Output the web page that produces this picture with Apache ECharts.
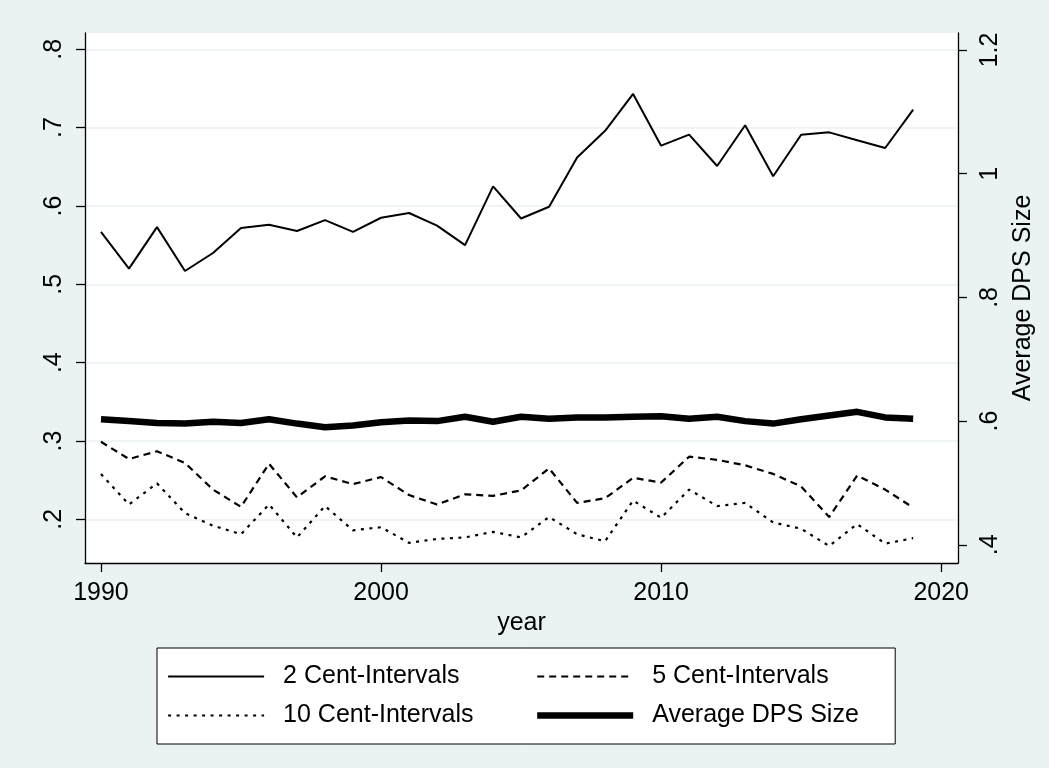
<!DOCTYPE html>
<html>
<head>
<meta charset="utf-8">
<script src="https://cdn.jsdelivr.net/npm/echarts@6/dist/echarts.min.js"></script>
<style>
html,body{margin:0;padding:0;background:#eaf2f3;}
#chart{width:1049px;height:768px;}
</style>
</head>
<body>
<div id="chart"></div>
<script>
var years = [1990,1991,1992,1993,1994,1995,1996,1997,1998,1999,2000,2001,2002,2003,2004,2005,2006,2007,2008,2009,2010,2011,2012,2013,2014,2015,2016,2017,2018,2019];
var cent2 = [0.567,0.520,0.573,0.517,0.540,0.572,0.576,0.568,0.582,0.567,0.585,0.591,0.575,0.550,0.625,0.584,0.599,0.662,0.696,0.743,0.677,0.691,0.651,0.703,0.638,0.691,0.694,0.684,0.674,0.723];
var cent5 = [0.299,0.277,0.287,0.272,0.238,0.216,0.271,0.228,0.255,0.245,0.254,0.231,0.219,0.232,0.230,0.237,0.265,0.221,0.227,0.253,0.247,0.280,0.276,0.269,0.258,0.242,0.203,0.256,0.238,0.215];
var cent10 = [0.258,0.219,0.246,0.208,0.192,0.181,0.219,0.177,0.217,0.186,0.190,0.170,0.175,0.177,0.184,0.177,0.203,0.181,0.172,0.224,0.202,0.238,0.217,0.221,0.196,0.188,0.166,0.194,0.169,0.176];
var avgDPS = [0.603,0.600,0.597,0.596,0.599,0.597,0.603,0.596,0.590,0.593,0.598,0.601,0.600,0.607,0.599,0.607,0.604,0.606,0.606,0.607,0.608,0.604,0.607,0.600,0.596,0.603,0.609,0.615,0.606,0.604];

var xTicks = [1990,2000,2010,2020];
var leftTicks = [0.2,0.3,0.4,0.5,0.6,0.7,0.8];
var leftTickLabels = ['.2','.3','.4','.5','.6','.7','.8'];
var rightTicks = [0.4,0.6,0.8,1.0,1.2];
var rightTickLabels = ['.4','.6','.8','1','1.2'];
var seriesNames = ['2 Cent-Intervals','5 Cent-Intervals','10 Cent-Intervals','Average DPS Size'];

function pairs(vals){ return years.map(function(y,i){ return [y, vals[i]]; }); }
function labelFor(ticks, labels){
  return function(v){
    for (var i=0;i<ticks.length;i++){ if (Math.abs(ticks[i]-v) < 1e-6) return labels[i]; }
    return '';
  };
}

var FONT = '"Liberation Sans", Arial, sans-serif';
var chart = echarts.init(document.getElementById('chart'), null, {renderer:'canvas'});
var axisLineStyle = {color:'#000', width:1.3};

var styles = {};
styles[seriesNames[0]] = {color:'#000', width:2};
styles[seriesNames[1]] = {color:'#000', width:2.2, type:[7,5]};
styles[seriesNames[2]] = {color:'#000', width:2.2, type:[3,5.5]};
styles[seriesNames[3]] = {color:'#000', width:6.5};

function legendItem(name){
  return {name:name, itemStyle:{opacity:0}, lineStyle:styles[name]};
}

chart.setOption({
  backgroundColor:'#eaf2f3',
  animation:false,
  textStyle:{fontFamily:FONT, color:'#000'},
  grid:{left:85, right:91, top:33, bottom:205, show:true, backgroundColor:'#ffffff', borderWidth:0},
  xAxis:{
    type:'value', min:1989.43, max:2020.6,
    name:'year', nameLocation:'middle', nameGap:42,
    nameTextStyle:{fontSize:25, color:'#000', fontFamily:FONT},
    axisLine:{show:true, onZero:false, lineStyle:axisLineStyle},
    axisTick:{show:true, length:9, customValues:xTicks, lineStyle:axisLineStyle},
    axisLabel:{customValues:xTicks, fontSize:25, color:'#000', margin:18, fontFamily:FONT,
      formatter:function(v){ return String(Math.round(v)); }},
    splitLine:{show:false}
  },
  yAxis:[{
    type:'value', position:'left', min:0.1443, max:0.8208,
    axisLine:{show:true, onZero:false, lineStyle:axisLineStyle},
    axisTick:{show:true, length:9, customValues:leftTicks, lineStyle:axisLineStyle},
    axisLabel:{customValues:leftTicks, rotate:90, fontSize:25, color:'#000', margin:18, fontFamily:FONT,
      formatter:labelFor(leftTicks, leftTickLabels)},
    splitLine:{show:true, lineStyle:{color:'#eaf2f3', width:1.5}}
  },{
    type:'value', position:'right', min:0.3706, max:1.2275,
    name:'Average DPS Size', nameLocation:'middle', nameRotate:90, nameGap:48,
    nameTextStyle:{fontSize:25, color:'#000', fontFamily:FONT},
    axisLine:{show:true, onZero:false, lineStyle:axisLineStyle},
    axisTick:{show:true, length:9, customValues:rightTicks, lineStyle:axisLineStyle},
    axisLabel:{customValues:rightTicks, rotate:90, fontSize:25, color:'#000', margin:20, fontFamily:FONT,
      formatter:labelFor(rightTicks, rightTickLabels)},
    splitLine:{show:false}
  }],
  legend:{
    orient:'vertical', left:157, top:648, height:64,
    padding:[16,4,16,10],
    backgroundColor:'#ffffff', borderColor:'#000', borderWidth:1, borderRadius:0,
    itemWidth:96, itemHeight:24, itemGap:14,
    itemStyle:{opacity:0},
    textStyle:{fontSize:25, lineHeight:24, color:'#000', fontFamily:FONT, width:239, padding:[0,0,0,14]},
    data:[legendItem(seriesNames[0]), legendItem(seriesNames[2]), legendItem(seriesNames[1]), legendItem(seriesNames[3])]
  },
  series:[{
    name:seriesNames[0], type:'line', yAxisIndex:0, symbol:'none', data:pairs(cent2),
    lineStyle:styles[seriesNames[0]]
  },{
    name:seriesNames[1], type:'line', yAxisIndex:0, symbol:'none', data:pairs(cent5),
    lineStyle:styles[seriesNames[1]]
  },{
    name:seriesNames[2], type:'line', yAxisIndex:0, symbol:'none', data:pairs(cent10),
    lineStyle:styles[seriesNames[2]]
  },{
    name:seriesNames[3], type:'line', yAxisIndex:1, symbol:'none', data:pairs(avgDPS),
    lineStyle:styles[seriesNames[3]]
  }]
});
</script>
</body>
</html>
